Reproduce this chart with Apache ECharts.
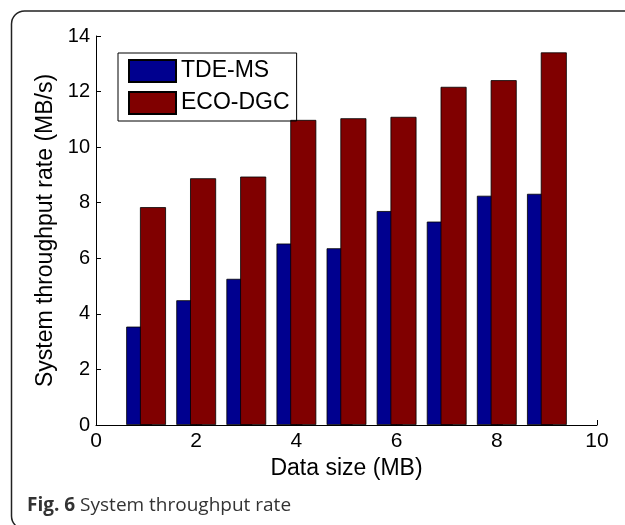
<!DOCTYPE html>
<html>
<head>
<meta charset="utf-8">
<script src="https://cdn.jsdelivr.net/npm/echarts@6/dist/echarts.min.js"></script>
<style>
html,body{margin:0;padding:0;background:#fff;}
#c{width:625px;height:525px;}
</style>
</head>
<body>
<div id="c"></div>
<script>
var dataSizes = [1, 2, 3, 4, 5, 6, 7, 8, 9];
var tdeMs = [3.54, 4.49, 5.26, 6.53, 6.36, 7.70, 7.32, 8.25, 8.32];
var ecoDgc = [7.84, 8.88, 8.94, 10.98, 11.04, 11.09, 12.17, 12.41, 13.41];
var seriesNames = ['TDE-MS', 'ECO-DGC'];
var xTitle = 'Data size (MB)';
var yTitle = 'System throughput rate (MB/s)';
var captionBold = 'Fig. 6';
var captionText = 'System throughput rate';

function pairs(vals) {
  return dataSizes.map(function (x, i) { return [x, vals[i]]; });
}

var font = 'Liberation Sans, Arial, sans-serif';
var chart = echarts.init(document.getElementById('c'), null, {renderer: 'canvas'});
chart.setOption({
  animation: false,
  backgroundColor: '#fff',
  grid: {left: 96, right: 28, top: 36, bottom: 100, containLabel: false},
  legend: {
    orient: 'vertical',
    left: 118, top: 53,
    padding: [6, 7, 6, 10],
    itemWidth: 47, itemHeight: 22, itemGap: 8,
    borderColor: '#000', borderWidth: 1,
    icon: 'rect',
    textStyle: {fontSize: 23, color: '#000', fontFamily: font},
    data: seriesNames
  },
  xAxis: {
    type: 'value', min: 0, max: 10, interval: 2,
    name: xTitle, nameLocation: 'middle', nameGap: 30,
    nameTextStyle: {fontSize: 23, color: '#000', fontFamily: font},
    axisLine: {show: true, lineStyle: {color: '#000', width: 1}},
    axisTick: {show: true, inside: true, length: 5, lineStyle: {color: '#000'}},
    axisLabel: {fontSize: 21, color: '#000', fontFamily: font, margin: 6},
    splitLine: {show: false}
  },
  yAxis: {
    type: 'value', min: 0, max: 14, interval: 2,
    name: yTitle, nameLocation: 'middle', nameGap: 38,
    nameTextStyle: {fontSize: 23, color: '#000', fontFamily: font},
    axisLine: {show: true, lineStyle: {color: '#000', width: 1}},
    axisTick: {show: true, inside: true, length: 5, lineStyle: {color: '#000'}},
    axisLabel: {fontSize: 20, color: '#000', fontFamily: font, margin: 6},
    splitLine: {show: false}
  },
  series: [
    {
      name: seriesNames[0], type: 'bar', data: pairs(tdeMs),
      barWidth: 26, barGap: '-47%',
      itemStyle: {color: '#00008F', borderColor: '#000', borderWidth: 0.8}
    },
    {
      name: seriesNames[1], type: 'bar', data: pairs(ecoDgc),
      barWidth: 26, barGap: '-47%',
      itemStyle: {color: '#800000', borderColor: '#000', borderWidth: 0.8}
    }
  ],
  graphic: [
    {
      type: 'rect', silent: true,
      shape: {x: 11.5, y: 11, width: 700, height: 518, r: 13},
      style: {fill: 'none', stroke: '#222', lineWidth: 1.5}
    },
    {
      type: 'text', left: 27, top: 496,
      style: {
        text: '{b|' + captionBold + '} ' + captionText,
        font: '19px "Open Sans", sans-serif',
        fill: '#333',
        rich: {b: {fontWeight: 'bold', fontSize: 19, fontFamily: 'Open Sans', fill: '#333'}}
      }
    }
  ]
});
</script>
</body>
</html>
